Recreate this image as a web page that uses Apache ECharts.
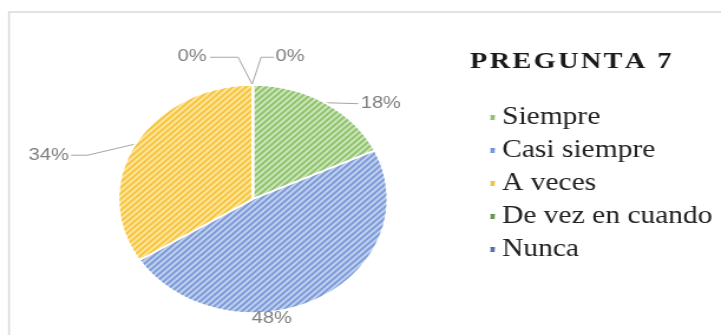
<!DOCTYPE html>
<html>
<head>
<meta charset="utf-8">
<script src="https://cdn.jsdelivr.net/npm/echarts@6/dist/echarts.min.js"></script>
<style>
  html, body { margin: 0; padding: 0; background: #ffffff; overflow: hidden; }
  #wrap { position: absolute; left: 0; top: 0; width: 721px; height: 335px; overflow: hidden; }
  #chart { position: absolute; left: 0; top: 0; width: 611px; height: 335px;
           transform: scaleX(1.18); transform-origin: 0 0; }
</style>
</head>
<body>
<div id="wrap"><div id="chart"></div></div>
<script>
// ---- data ----
const titleText = 'PREGUNTA 7';
const categories = ['Siempre', 'Casi siempre', 'A veces', 'De vez en cuando', 'Nunca'];
const values = [18, 48, 34, 0, 0];
// ---- styles ----
const solidColors = ['#8cc56d', '#6d93d6', '#f5c431', '#5f8f4c', '#4a6aa8'];
const baseColors  = ['#cce5bb', '#c1d0ee', '#fde5a0', '#b9cfae', '#b7c3dd'];
const stripeColors = ['#8fc36c', '#7c9bd8', '#f6c53a', '#6f9a5a', '#5a78b3'];

const chart = echarts.init(document.getElementById('chart'), null, { renderer: 'canvas' });

const sx = 1.18;
const spaced = titleText.split('').join('\u200A');

// label placement tweaks (offsets in chart px, before horizontal scaling)
function labelAdjust(p) {
  const r = p.rect, lr = p.labelRect, pts = p.labelLinePoints;
  const cy = lr.y + lr.height / 2;
  switch (p.dataIndex) {
    case 0: {
      const dy = 6;
      const p0 = pts ? pts[0] : [lr.x - 20, cy];
      return { dy: dy, labelLinePoints: [p0, [lr.x - 2, cy + dy], [lr.x - 2, cy + dy]] };
    }
    case 1: return { dx: -86, dy: 14 };
    case 2: {
      const dx = -24, dy = 14;
      const p0 = pts ? pts[0] : [lr.x + lr.width + 40, cy];
      const endX = lr.x + lr.width + dx + 2;
      return { dx: dx, dy: dy, labelLinePoints: [p0, [endX + 14, cy + dy], [endX, cy + dy]] };
    }
    case 3: return {
      x: r.x - 60 / sx, y: r.y - 28, align: 'center', verticalAlign: 'middle',
      labelLinePoints: [[r.x, r.y], [r.x - 14 / sx, r.y - 27], [r.x - 42 / sx, r.y - 27]]
    };
    case 4: return {
      x: r.x + 38 / sx, y: r.y - 28, align: 'center', verticalAlign: 'middle',
      labelLinePoints: [[r.x, r.y], [r.x + 9 / sx, r.y - 27], [r.x + 22 / sx, r.y - 27]]
    };
  }
  return {};
}

const option = {
  animation: false,
  backgroundColor: '#ffffff',
  title: {
    text: spaced,
    left: 464 / sx,
    top: 45,
    textStyle: { fontFamily: 'Liberation Serif', fontWeight: 'bold', fontSize: 24, color: '#1a1a1a' }
  },
  legend: {
    orient: 'vertical',
    left: 482 / sx,
    top: 100,
    icon: 'rect',
    itemWidth: 6,
    itemHeight: 7,
    itemGap: 8,
    textStyle: { fontFamily: 'Liberation Serif', fontSize: 25, color: '#222222', lineHeight: 25 },
    data: categories.map((c, i) => ({ name: c, itemStyle: { color: solidColors[i], decal: null } }))
  },
  graphic: [{
    type: 'rect',
    shape: { x: 9 / sx, y: 12, width: 720 / sx, height: 340 },
    style: { fill: 'none', stroke: '#d9d9d9', lineWidth: 1.5 },
    silent: true
  }],
  series: [{
    type: 'pie',
    center: [253 / sx, 199],
    radius: 114,
    startAngle: 90,
    clockwise: true,
    percentPrecision: 0,
    stillShowZeroSum: true,
    avoidLabelOverlap: false,
    itemStyle: { borderColor: '#ffffff', borderWidth: 1.5 },
    label: {
      show: true,
      position: 'outside',
      formatter: '{d}%',
      fontFamily: 'Liberation Sans',
      fontSize: 17,
      color: '#7f7f7f'
    },
    labelLine: { show: true, length: 6, length2: 22, lineStyle: { color: '#a6a6a6', width: 1 } },
    labelLayout: labelAdjust,
    data: categories.map((c, i) => ({
      name: c,
      value: values[i],
      labelLine: i === 1 ? { show: false } : undefined,
      itemStyle: {
        color: baseColors[i],
        decal: {
          symbol: 'rect', symbolSize: 1,
          dashArrayX: [1, 0], dashArrayY: [2, 1.5],
          rotation: -Math.PI / 4,
          color: stripeColors[i]
        }
      }
    }))
  }]
};
chart.setOption(option);
</script>
</body>
</html>
